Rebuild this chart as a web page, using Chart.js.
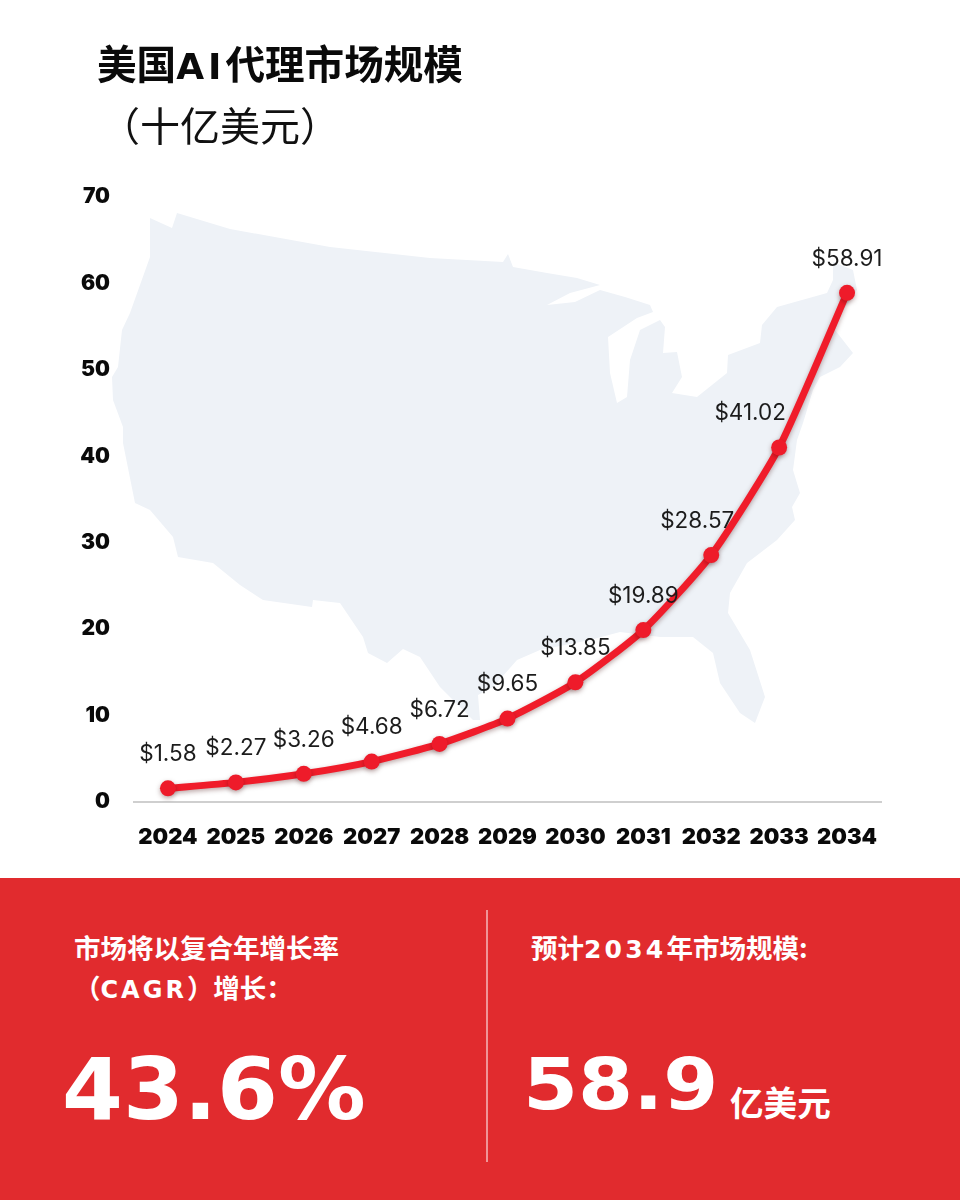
<!DOCTYPE html>
<html>
<head>
<meta charset="utf-8">
<title>美国AI代理市场规模</title>
<script src="https://cdn.jsdelivr.net/npm/chart.js@4/dist/chart.umd.min.js"></script>
<style>
  html, body { margin: 0; padding: 0; background: #fff; }
  #page { position: relative; width: 960px; height: 1200px; overflow: hidden; font-family: "Noto Sans CJK SC", sans-serif; }
  #page div { position: absolute; white-space: nowrap; line-height: 1; }
  #map, #chart { position: absolute; left: 0; top: 0; }
  .title { font-size: 39.6px; font-weight: 700; color: #0a0a0a; left: 97px; top: 42px; }
  .title span { font-family: "DejaVu Sans", sans-serif; font-size: 36px; letter-spacing: 4px; }
  .sub { font-size: 40px; font-weight: 400; color: #111; left: 100px; top: 104px; }
  #panel { left: 0; top: 878px; width: 960px; height: 322px; background: #e12b2e; }
  #rule { left: 486px; top: 910px; width: 2px; height: 252px; background: rgba(255,255,255,.5); }
  .note { color: #fff; font-size: 26.5px; font-weight: 700; }
  .note span { font-family: "DejaVu Sans", sans-serif; font-size: 24px; letter-spacing: 3px; }
  .big { color: #fff; font-family: "DejaVu Sans", sans-serif; font-weight: 700; transform-origin: left top; }
</style>
</head>
<body>
<div id="page">
  <svg id="map" width="960" height="880">
    <path fill="#eef2f7" d="M150 218 172 228 177 213 230 229 330 247 430 258 503 262 508 254 513 267 547 273 577 278 600 285 570 293 547 305 575 302 600 290 625 297 650 305 653 312 637 318 608 337 610 373 617 403 627 397 630 360 640 330 660 320 665 327 663 353 677 352 682 377 672 393 697 397 727 373 728 355 760 343 762 325 777 307 827 293 833 280 833 262 853 270 857 290 843 310 835 330 853 353 840 367 820 377 813 390 803 423 797 440 793 470 800 493 792 507 795 520 777 540 747 563 730 593 728 613 750 650 765 697 755 723 740 713 720 683 713 653 693 637 660 637 620 632 590 640 540 650 517 660 493 687 478 695 480 720 473 720 440 687 420 657 403 649 387 663 368 653 363 637 340 603 313 600 312 607 263 600 240 585 213 563 178 557 173 537 150 510 135 503 133 493 127 463 123 443 123 427 113 400 112 377 118 367 122 330 130 313 150 257Z"/>
  </svg>
  <canvas id="chart" width="960" height="880"></canvas>

  <div class="title">美国<span>AI</span>代理市场规模</div>
  <div class="sub">（十亿美元）</div>

  <div id="panel"></div>
  <div id="rule"></div>
  <div class="note" style="left:74px;top:934px">市场将以复合年增长率</div>
  <div class="note" style="left:74px;top:974px">（<span>CAGR</span>）增长：</div>
  <div class="big" style="left:62px;top:1047px;font-size:85px;transform:scaleX(1.03)">43.6%</div>
  <div class="note" style="left:531px;top:934px">预计<span style="font-size:25px;letter-spacing:3.2px">2034</span>年市场规模:</div>
  <div class="big" style="left:523px;top:1048px;font-size:72px;transform:scaleX(1.1)">58.9</div>
  <div class="note" style="left:730px;top:1085px;font-size:33.6px">亿美元</div>
</div>

<script>
const years = ['2024', '2025', '2026', '2027', '2028', '2029', '2030', '2031', '2032', '2033', '2034'];
const marketSize = [1.58, 2.27, 3.26, 4.68, 6.72, 9.65, 13.85, 19.89, 28.57, 41.02, 58.91];
const yTicks = [0, 10, 20, 30, 40, 50, 60, 70];

// the last few labels sit left of their point so they clear the line
const labelShift = [0, 0, 0, 0, 0, 0, 0, 0, -14, -29, 0];

const valueLabels = {
  id: 'valueLabels',
  afterDatasetsDraw(chart) {
    const ctx = chart.ctx;
    const pts = chart.getDatasetMeta(0).data;
    ctx.save();
    ctx.font = '400 22.5px Inter';
    ctx.fillStyle = '#1c1c1c';
    ctx.textAlign = 'center';
    ctx.textBaseline = 'middle';
    pts.forEach((p, i) => {
      ctx.fillText('$' + marketSize[i].toFixed(2), p.x + labelShift[i], p.y - 34);
    });
    ctx.restore();
  }
};

// soft drop shadow under the line
const lineShadow = {
  id: 'lineShadow',
  beforeDatasetDraw(chart) {
    const ctx = chart.ctx;
    ctx.save();
    ctx.shadowColor = 'rgba(60,0,0,.35)';
    ctx.shadowBlur = 5;
    ctx.shadowOffsetY = 2;
  },
  afterDatasetDraw(chart) {
    chart.ctx.restore();
  }
};

new Chart(document.getElementById('chart'), {
  type: 'line',
  data: {
    labels: years,
    datasets: [{
      data: marketSize,
      borderColor: '#f01c2a',
      backgroundColor: '#f01c2a',
      borderWidth: 7,
      tension: 0.2,
      pointRadius: 8,
      pointBackgroundColor: '#ee1b2a',
      pointBorderWidth: 0
    }]
  },
  options: {
    responsive: false,
    animation: false,
    devicePixelRatio: 1,
    layout: { padding: { top: 197, right: 79, left: 0, bottom: 0 } },
    plugins: { legend: { display: false }, title: { display: false }, tooltip: { enabled: false } },
    scales: {
      x: {
        offset: true,
        grid: { display: false, drawTicks: false },
        border: { display: true, color: '#cfcfcf', width: 2 },
        afterFit(scale) { scale.height = 78; },
        ticks: {
          padding: 22,
          maxRotation: 0,
          autoSkip: false,
          color: '#0a0a0a',
          font: { family: 'Inter', size: 22, weight: '900' }
        }
      },
      y: {
        min: 0,
        max: 70,
        grid: { display: false, drawTicks: false },
        border: { display: false },
        afterFit(scale) { scale.width = 134; },
        afterBuildTicks(scale) { scale.ticks = yTicks.map(v => ({ value: v })); },
        ticks: {
          padding: 24,
          color: '#0a0a0a',
          font: { family: 'Inter', size: 21, weight: '900' }
        }
      }
    }
  },
  plugins: [lineShadow, valueLabels]
});
</script>
</body>
</html>
